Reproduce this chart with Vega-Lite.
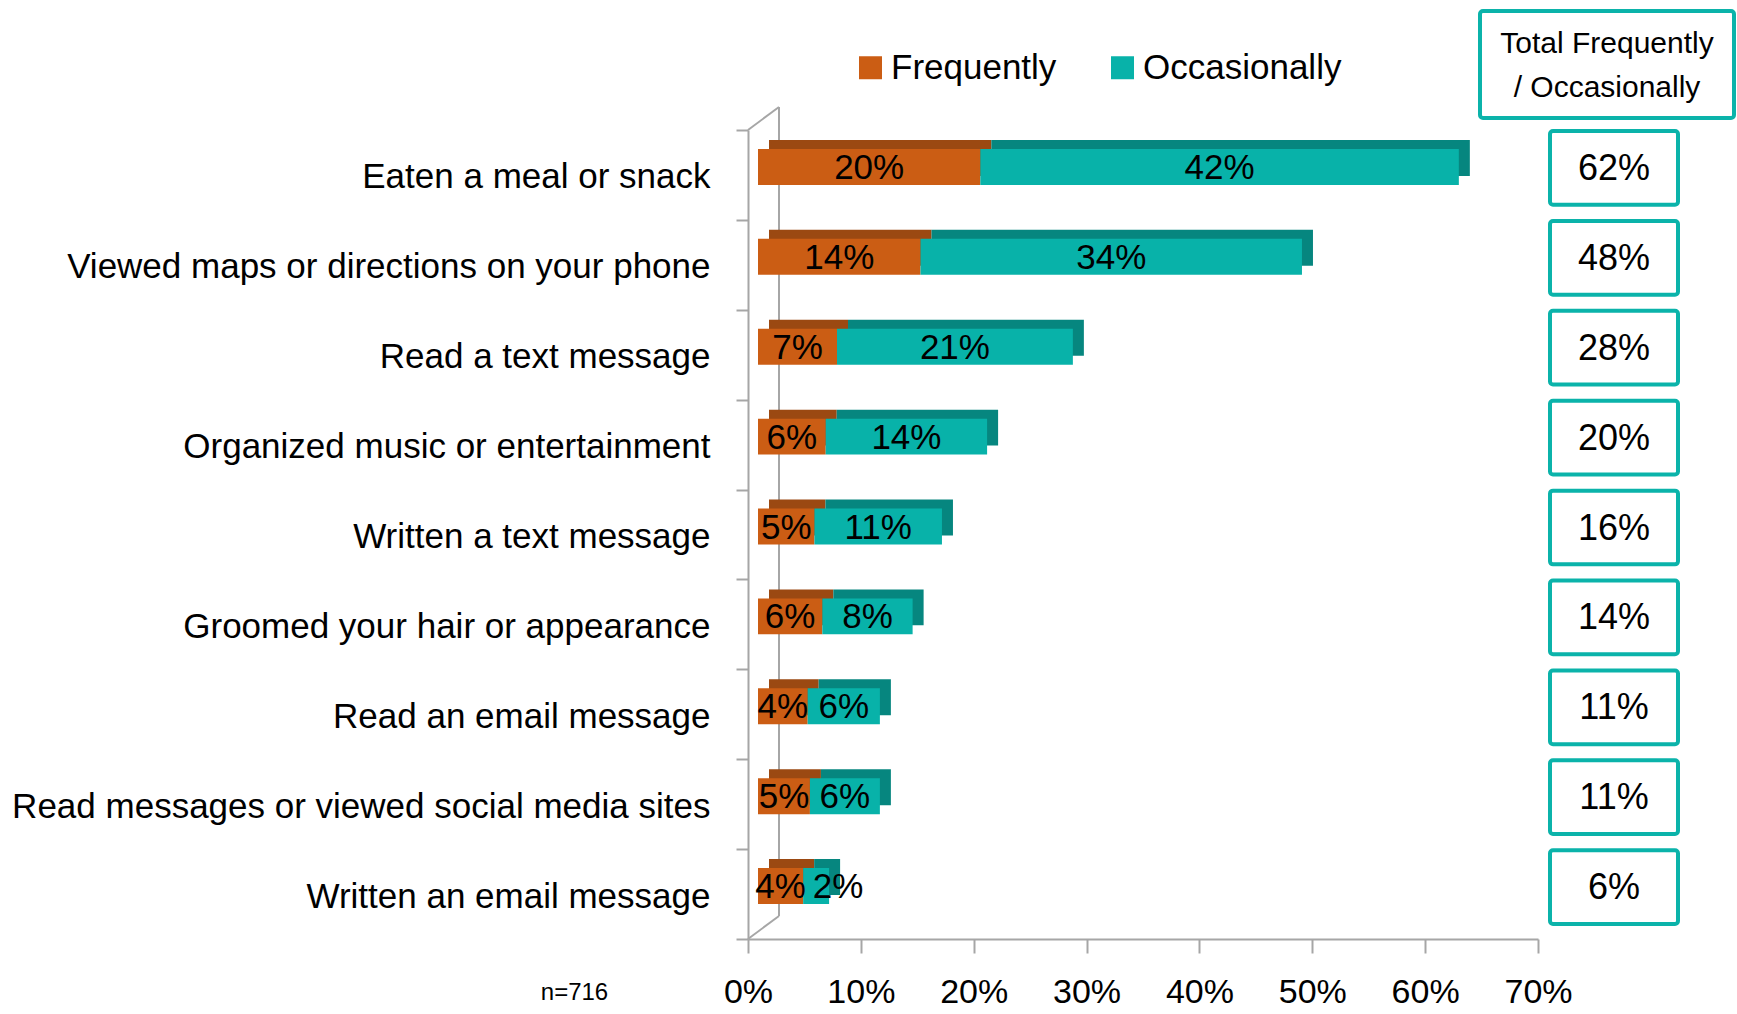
{
  "$schema": "https://vega.github.io/schema/vega-lite/v6.json",
  "width": 989,
  "height": 809,
  "autosize": {"type": "none"},
  "padding": {"left": 748, "top": 130, "right": 0, "bottom": 75},
  "background": "white",
  "config": {
    "font": "Liberation Sans",
    "view": {"stroke": null},
    "text": {"font": "Liberation Sans"}
  },
  "datasets": {
    "segments": [
      {"activity": "Eaten a meal or snack", "type": "Frequently", "value": 0.197},
      {"activity": "Eaten a meal or snack", "type": "Occasionally", "value": 0.424},
      {"activity": "Viewed maps or directions on your phone", "type": "Frequently", "value": 0.144},
      {"activity": "Viewed maps or directions on your phone", "type": "Occasionally", "value": 0.338},
      {"activity": "Read a text message", "type": "Frequently", "value": 0.070},
      {"activity": "Read a text message", "type": "Occasionally", "value": 0.209},
      {"activity": "Organized music or entertainment", "type": "Frequently", "value": 0.060},
      {"activity": "Organized music or entertainment", "type": "Occasionally", "value": 0.143},
      {"activity": "Written a text message", "type": "Frequently", "value": 0.050},
      {"activity": "Written a text message", "type": "Occasionally", "value": 0.113},
      {"activity": "Groomed your hair or appearance", "type": "Frequently", "value": 0.057},
      {"activity": "Groomed your hair or appearance", "type": "Occasionally", "value": 0.080},
      {"activity": "Read an email message", "type": "Frequently", "value": 0.044},
      {"activity": "Read an email message", "type": "Occasionally", "value": 0.064},
      {"activity": "Read messages or viewed social media sites", "type": "Frequently", "value": 0.046},
      {"activity": "Read messages or viewed social media sites", "type": "Occasionally", "value": 0.062},
      {"activity": "Written an email message", "type": "Frequently", "value": 0.040},
      {"activity": "Written an email message", "type": "Occasionally", "value": 0.023}
    ],
    "totals": [
      {"activity": "Eaten a meal or snack", "total": 0.62},
      {"activity": "Viewed maps or directions on your phone", "total": 0.48},
      {"activity": "Read a text message", "total": 0.28},
      {"activity": "Organized music or entertainment", "total": 0.20},
      {"activity": "Written a text message", "total": 0.16},
      {"activity": "Groomed your hair or appearance", "total": 0.14},
      {"activity": "Read an email message", "total": 0.11},
      {"activity": "Read messages or viewed social media sites", "total": 0.11},
      {"activity": "Written an email message", "total": 0.06}
    ],
    "header": [{"label": "Total Frequently / Occasionally"}],
    "frame": [{"part": "wall"}]
  },
  "resolve": {"scale": {"x": "independent", "y": "independent", "color": "independent"}},
  "layer": [
    {
      "data": {"name": "frame"},
      "mark": {"type": "rule", "color": "#A6A6A6", "strokeWidth": 2, "xOffset": 31, "yOffset": -23, "y2Offset": -23},
      "encoding": {
        "x": {"datum": 0, "type": "quantitative", "scale": {"domain": [0, 0.7], "range": [0, 790], "nice": false}, "axis": null},
        "y": {"datum": 0, "type": "quantitative", "scale": {"domain": [0, 1], "nice": false}, "axis": null},
        "y2": {"datum": 1}
      }
    },
    {
      "data": {"name": "frame"},
      "mark": {"type": "rule", "color": "#A6A6A6", "strokeWidth": 2, "x2Offset": 31, "y2Offset": -23},
      "encoding": {
        "x": {"datum": 0, "type": "quantitative", "scale": {"domain": [0, 0.7], "range": [0, 790], "nice": false}, "axis": null},
        "x2": {"datum": 0},
        "y": {"datum": 0, "type": "quantitative", "scale": {"domain": [0, 1], "nice": false}, "axis": null},
        "y2": {"datum": 0}
      }
    },
    {
      "data": {"name": "frame"},
      "mark": {"type": "rule", "color": "#A6A6A6", "strokeWidth": 2, "x2Offset": 31, "y2Offset": -23},
      "encoding": {
        "x": {"datum": 0, "type": "quantitative", "scale": {"domain": [0, 0.7], "range": [0, 790], "nice": false}, "axis": null},
        "x2": {"datum": 0},
        "y": {"datum": 1, "type": "quantitative", "scale": {"domain": [0, 1], "nice": false}, "axis": null},
        "y2": {"datum": 1}
      }
    },
    {
      "data": {"name": "segments"},
      "mark": {"type": "bar", "xOffset": 21, "x2Offset": 21, "yOffset": -17, "y2Offset": -17},
      "encoding": {
        "y": {"field": "activity", "type": "nominal", "scale": {"domain": ["Eaten a meal or snack", "Viewed maps or directions on your phone", "Read a text message", "Organized music or entertainment", "Written a text message", "Groomed your hair or appearance", "Read an email message", "Read messages or viewed social media sites", "Written an email message"], "paddingInner": 0.6, "paddingOuter": 0.3}, "axis": null},
        "x": {"field": "value", "type": "quantitative", "stack": "zero", "scale": {"domain": [0, 0.7], "range": [0, 790], "nice": false}, "axis": null},
        "color": {"field": "type", "type": "nominal", "scale": {"domain": ["Frequently", "Occasionally"], "range": ["#9B4912", "#06867F"]}, "legend": null}
      }
    },
    {
      "data": {"name": "segments"},
      "mark": {"type": "bar", "xOffset": 10, "x2Offset": 10, "yOffset": -8, "y2Offset": -8},
      "encoding": {
        "y": {"field": "activity", "type": "nominal", "scale": {"domain": ["Eaten a meal or snack", "Viewed maps or directions on your phone", "Read a text message", "Organized music or entertainment", "Written a text message", "Groomed your hair or appearance", "Read an email message", "Read messages or viewed social media sites", "Written an email message"], "paddingInner": 0.6, "paddingOuter": 0.3}, "axis": null},
        "x": {"field": "value", "type": "quantitative", "stack": "zero", "scale": {"domain": [0, 0.7], "range": [0, 790], "nice": false}, "axis": null},
        "color": {
          "field": "type", "type": "nominal",
          "scale": {"domain": ["Frequently", "Occasionally"], "range": ["#CB5D14", "#08B2A9"]},
          "legend": {
            "title": null, "orient": "none", "direction": "horizontal",
            "legendX": 105, "legendY": -80,
            "labelFontSize": 35, "labelColor": "#000000", "labelFont": "Liberation Sans", "labelLimit": 400,
            "symbolType": "square", "symbolSize": 529, "symbolStrokeWidth": 0,
            "labelOffset": 3, "columnPadding": 48, "padding": 0
          }
        }
      }
    },
    {
      "data": {"name": "segments"},
      "transform": [
        {"stack": "value", "groupby": ["activity"], "sort": [{"field": "type"}], "as": ["v0", "v1"]},
        {"calculate": "datum.value < 0.03 ? datum.v1 + 0.008 : (datum.v0 + datum.v1) / 2", "as": "labelPos"}
      ],
      "mark": {"type": "text", "fontSize": 35, "baseline": "middle", "align": "center", "dx": 10, "dy": -7, "color": "#000000"},
      "encoding": {
        "y": {
          "field": "activity", "type": "nominal",
          "scale": {"domain": ["Eaten a meal or snack", "Viewed maps or directions on your phone", "Read a text message", "Organized music or entertainment", "Written a text message", "Groomed your hair or appearance", "Read an email message", "Read messages or viewed social media sites", "Written an email message"], "paddingInner": 0, "paddingOuter": 0},
          "axis": {
            "title": null, "tickBand": "extent", "labelFontSize": 35, "labelColor": "#000000",
            "labelPadding": 26, "labelLimit": 900, "tickSize": 12, "tickColor": "#A6A6A6", "tickWidth": 2,
            "domainColor": "#A6A6A6", "domainWidth": 2, "grid": false, "labelOffset": 2
          }
        },
        "x": {
          "field": "labelPos", "type": "quantitative",
          "scale": {"domain": [0, 0.7], "range": [0, 790], "nice": false},
          "axis": {
            "values": [0, 0.1, 0.2, 0.3, 0.4, 0.5, 0.6, 0.7], "format": ".0%",
            "labelFontSize": 34, "labelColor": "#000000", "labelPadding": 22, "labelFlush": false, "labelOverlap": false,
            "tickSize": 14, "tickColor": "#A6A6A6", "tickWidth": 2, "domainColor": "#A6A6A6", "domainWidth": 2, "grid": false,
            "title": "n=716", "titleFontSize": 24, "titleFontWeight": "normal", "titleColor": "#000000",
            "titleX": -174, "titleY": 53, "titleAlign": "center", "titleBaseline": "middle"
          }
        },
        "text": {"field": "value", "type": "quantitative", "format": ".0%"}
      }
    },
    {
      "data": {"name": "totals"},
      "mark": {"type": "rect", "fill": "#FFFFFF", "stroke": "#0BB3AA", "strokeWidth": 4, "cornerRadius": 3, "yOffset": -7, "y2Offset": -7},
      "encoding": {
        "x": {"datum": "Total", "type": "nominal", "scale": {"type": "band", "domain": ["Total"], "range": [802, 930], "paddingInner": 0, "paddingOuter": 0}, "axis": null},
        "y": {"field": "activity", "type": "nominal", "scale": {"domain": ["Eaten a meal or snack", "Viewed maps or directions on your phone", "Read a text message", "Organized music or entertainment", "Written a text message", "Groomed your hair or appearance", "Read an email message", "Read messages or viewed social media sites", "Written an email message"], "paddingInner": 0.18, "paddingOuter": 0.09}, "axis": null}
      }
    },
    {
      "data": {"name": "totals"},
      "mark": {"type": "text", "fontSize": 36, "baseline": "middle", "align": "center", "dy": -6, "color": "#000000"},
      "encoding": {
        "x": {"datum": "Total", "type": "nominal", "scale": {"type": "band", "domain": ["Total"], "range": [802, 930], "paddingInner": 0, "paddingOuter": 0}, "axis": null},
        "y": {"field": "activity", "type": "nominal", "scale": {"domain": ["Eaten a meal or snack", "Viewed maps or directions on your phone", "Read a text message", "Organized music or entertainment", "Written a text message", "Groomed your hair or appearance", "Read an email message", "Read messages or viewed social media sites", "Written an email message"], "paddingInner": 0, "paddingOuter": 0}, "axis": null},
        "text": {"field": "total", "type": "quantitative", "format": ".0%"}
      }
    },
    {
      "data": {"name": "header"},
      "mark": {"type": "rect", "fill": "#FFFFFF", "stroke": "#0BB3AA", "strokeWidth": 4, "cornerRadius": 3},
      "encoding": {
        "x": {"datum": "H", "type": "nominal", "scale": {"type": "band", "domain": ["H"], "range": [732, 986], "paddingInner": 0, "paddingOuter": 0}, "axis": null},
        "y": {"datum": "H", "type": "nominal", "scale": {"type": "band", "domain": ["H"], "range": [-119, -12], "paddingInner": 0, "paddingOuter": 0}, "axis": null}
      }
    },
    {
      "data": {"name": "header"},
      "mark": {"type": "text", "fontSize": 30, "lineHeight": 44, "baseline": "middle", "align": "center", "dy": -21, "color": "#000000", "text": ["Total Frequently", "/ Occasionally"]},
      "encoding": {
        "x": {"datum": "H", "type": "nominal", "scale": {"type": "band", "domain": ["H"], "range": [732, 986], "paddingInner": 0, "paddingOuter": 0}, "axis": null},
        "y": {"datum": "H", "type": "nominal", "scale": {"type": "band", "domain": ["H"], "range": [-119, -12], "paddingInner": 0, "paddingOuter": 0}, "axis": null}
      }
    }
  ]
}
